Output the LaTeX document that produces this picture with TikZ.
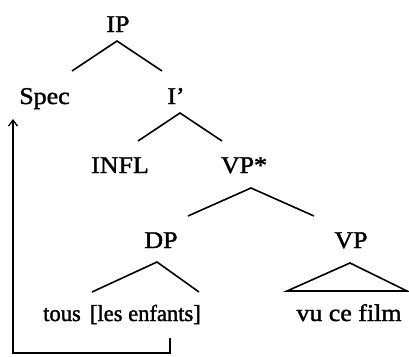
\documentclass[tikz,border=0pt]{standalone}
\usepackage{fontspec}
\setmainfont{Liberation Serif}[FakeStretch=1.08,FakeBold=1.6]
\newfontfamily\narrowfont{Liberation Serif}[FakeStretch=0.98,FakeBold=1.6]
\usetikzlibrary{arrows.meta}
\begin{document}
\begin{tikzpicture}[x=1pt,y=-1pt,
  lab/.style={anchor=base,inner sep=0pt,font=\fontsize{24}{28}\selectfont},
  br/.style={line width=1.6pt},
  mv/.style={line width=1.5pt,-{Straight Barb[length=6pt,width=9pt,line width=1.3pt]}}]
\useasboundingbox (0,0) rectangle (409,356);
% labels
\node[lab] (IP) at (118,32) {IP};
\node[lab] (Spec) at (44.5,104) {Spec};
\node[lab] (Ibar) at (176,104) {I’};
\node[lab] (INFL) at (120,173) {INFL};
\node[lab] (VPs) at (244,173) {VP*};
\node[lab] (DP) at (161,248) {DP};
\node[lab] (VP) at (351,248) {VP};
\node[lab,font=\narrowfont\fontsize{23}{28}\selectfont] (tous) at (122,321) {tous\hspace{0.4em}[les enfants]};
\node[lab] (vu) at (349,321) {vu ce film};
% branch points
\coordinate (IPa) at (117,41);
\coordinate (IPl) at (72,71);
\coordinate (IPr) at (162,71);
\coordinate (Ia) at (180,113);
\coordinate (Il) at (138,141);
\coordinate (Ir) at (222,141);
\coordinate (VPsa) at (251,188);
\coordinate (VPsl) at (188,216);
\coordinate (VPsr) at (314,216);
\coordinate (DPa) at (157,262);
\coordinate (DPl) at (92,292);
\coordinate (DPr) at (199,292);
\coordinate (VPa) at (350,263);
\coordinate (VPl) at (287,291);
\coordinate (VPr) at (407,291);
\coordinate (mvS) at (170,338);
\coordinate (mvT) at (13,119);
% branches
\draw[br] (IPl) -- (IPa) -- (IPr);
\draw[br] (Il) -- (Ia) -- (Ir);
\draw[br] (VPsl) -- (VPsa) -- (VPsr);
\draw[br] (DPl) -- (DPa) -- (DPr);
\draw[br,line join=miter] (VPl) -- (VPa) -- (VPr) -- cycle;
% movement
\draw[mv] (mvS) -- ++(0,15) -| (mvT);
\end{tikzpicture}
\end{document}
